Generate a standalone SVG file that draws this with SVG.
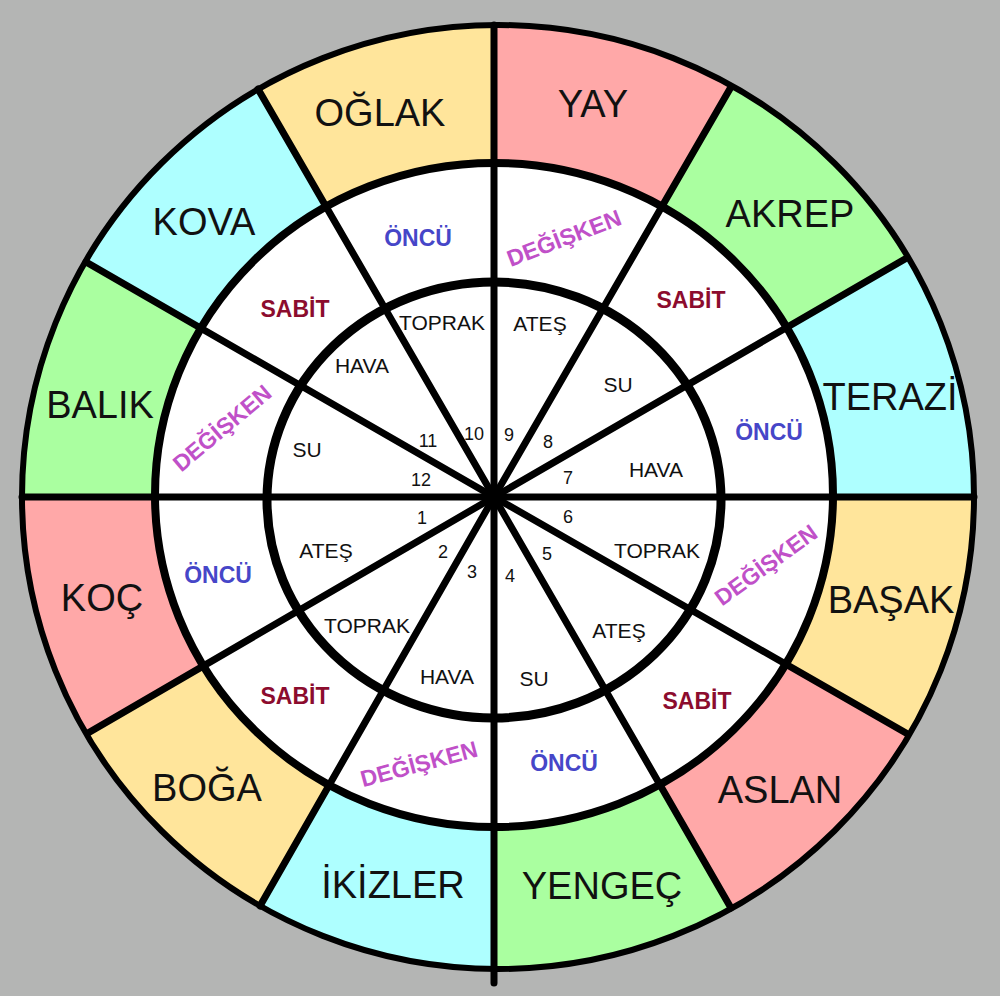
<svg xmlns="http://www.w3.org/2000/svg" width="1000" height="996" viewBox="0 0 1000 996">
<style>
text{font-family:"Liberation Sans","DejaVu Sans",sans-serif;text-anchor:middle;}
.sign{font-size:38px;fill:#111;}
.q{font-size:23px;font-weight:bold;}
.onc{fill:#4646c8;}
.sab{fill:#8c0c2e;}
.deg{fill:#c050c8;}
.el{font-size:21px;fill:#111;}
.num{font-size:18px;fill:#111;}
.pink{fill:#ffa8a8;}
.green{fill:#aaffa0;}
.cyan{fill:#aeffff;}
.yellow{fill:#ffe59b;}
.ln{stroke:#000;stroke-width:7;stroke-linecap:round;fill:none;}
</style>
<defs>
<clipPath id="outerClip"><ellipse cx="498" cy="497" rx="476" ry="472"/></clipPath>
</defs>
<rect x="0" y="0" width="1000" height="996" fill="#b4b5b4"/>
<g id="signs" clip-path="url(#outerClip)">
<g id="terazi"><path class="cyan" d="M494,497 L1194,497 L1100.2,147 Z"/></g>
<g id="akrep"><path class="green" d="M494,497 L1100.2,147 L844,-109.2 Z"/></g>
<g id="yay"><path class="pink" d="M494,497 L844,-109.2 L494,-203 Z"/></g>
<g id="oglak"><path class="yellow" d="M494,497 L494,-203 L144,-109.2 Z"/></g>
<g id="kova"><path class="cyan" d="M494,497 L144,-109.2 L-112.2,147 Z"/></g>
<g id="balik"><path class="green" d="M494,497 L-112.2,147 L-206,497 Z"/></g>
<g id="koc"><path class="pink" d="M494,497 L-206,497 L-112.2,847 Z"/></g>
<g id="boga"><path class="yellow" d="M494,497 L-112.2,847 L144,1103.2 Z"/></g>
<g id="ikizler"><path class="cyan" d="M494,497 L144,1103.2 L494,1197 Z"/></g>
<g id="yengec"><path class="green" d="M494,497 L494,1197 L844,1103.2 Z"/></g>
<g id="aslan"><path class="pink" d="M494,497 L844,1103.2 L1100.2,847 Z"/></g>
<g id="basak"><path class="yellow" d="M494,497 L1100.2,847 L1194,497 Z"/></g>
</g>
<ellipse cx="494" cy="495" rx="339" ry="332" fill="#fff"/>
<g id="sign-labels">
<text class="sign" x="890" y="410">TERAZİ</text>
<text class="sign" x="790" y="227">AKREP</text>
<text class="sign" x="593" y="117">YAY</text>
<text class="sign" x="380" y="126">OĞLAK</text>
<text class="sign" x="204" y="235">KOVA</text>
<text class="sign" x="100" y="418">BALIK</text>
<text class="sign" x="102" y="611">KOÇ</text>
<text class="sign" x="207" y="801">BOĞA</text>
<text class="sign" x="393" y="898">İKİZLER</text>
<text class="sign" x="602" y="899">YENGEÇ</text>
<text class="sign" x="780" y="803">ASLAN</text>
<text class="sign" x="891" y="613">BAŞAK</text>
</g>
<g id="qualities">
<text class="q onc" x="769" y="440">ÖNCÜ</text>
<text class="q sab" x="691" y="308">SABİT</text>
<text class="q deg" transform="translate(564,238) rotate(-21)" x="0" y="8">DEĞİŞKEN</text>
<text class="q onc" x="418" y="246">ÖNCÜ</text>
<text class="q sab" x="295" y="317">SABİT</text>
<text class="q deg" transform="translate(222,428) rotate(-40)" x="0" y="8">DEĞİŞKEN</text>
<text class="q onc" x="218" y="583">ÖNCÜ</text>
<text class="q sab" x="295" y="704">SABİT</text>
<text class="q deg" transform="translate(419,764) rotate(-15)" x="0" y="8">DEĞİŞKEN</text>
<text class="q onc" x="564" y="771">ÖNCÜ</text>
<text class="q sab" x="697" y="709">SABİT</text>
<text class="q deg" transform="translate(766,565) rotate(-36)" x="0" y="8">DEĞİŞKEN</text>
</g>
<g id="elements">
<text class="el" x="656" y="477">HAVA</text>
<text class="el" x="618" y="392">SU</text>
<text class="el" x="540" y="331">ATEŞ</text>
<text class="el" x="442" y="330">TOPRAK</text>
<text class="el" x="362" y="373">HAVA</text>
<text class="el" x="307" y="457">SU</text>
<text class="el" x="326" y="558">ATEŞ</text>
<text class="el" x="367" y="633">TOPRAK</text>
<text class="el" x="447" y="684">HAVA</text>
<text class="el" x="534" y="686">SU</text>
<text class="el" x="619" y="638">ATEŞ</text>
<text class="el" x="657" y="558">TOPRAK</text>
</g>
<g id="houses">
<text class="num" x="422" y="524">1</text>
<text class="num" x="443" y="558">2</text>
<text class="num" x="472" y="578">3</text>
<text class="num" x="510" y="582">4</text>
<text class="num" x="547" y="560">5</text>
<text class="num" x="568" y="523">6</text>
<text class="num" x="568" y="484">7</text>
<text class="num" x="548" y="448">8</text>
<text class="num" x="509" y="441">9</text>
<text class="num" x="474" y="440">10</text>
<text class="num" x="428" y="447">11</text>
<text class="num" x="421" y="486">12</text>
</g>
<g id="connectors">
<ellipse cx="498" cy="497" rx="476" ry="472" fill="none" stroke="#000" stroke-width="6"/>
<ellipse cx="494" cy="495" rx="339" ry="332" fill="none" stroke="#000" stroke-width="8"/>
<ellipse cx="494" cy="500" rx="227" ry="218" fill="none" stroke="#000" stroke-width="9"/>
<line class="ln" x1="494" y1="25" x2="494" y2="983"/>
<line class="ln" x1="22" y1="497" x2="974" y2="497"/>
<line class="ln" x1="494" y1="497" x2="905" y2="259"/>
<line class="ln" x1="494" y1="497" x2="731" y2="87"/>
<line class="ln" x1="494" y1="497" x2="258" y2="89"/>
<line class="ln" x1="494" y1="497" x2="86" y2="262"/>
<line class="ln" x1="494" y1="497" x2="88" y2="733"/>
<line class="ln" x1="494" y1="497" x2="260" y2="906"/>
<line class="ln" x1="494" y1="497" x2="731" y2="908"/>
<line class="ln" x1="494" y1="497" x2="906" y2="733"/>
</g>
</svg>
